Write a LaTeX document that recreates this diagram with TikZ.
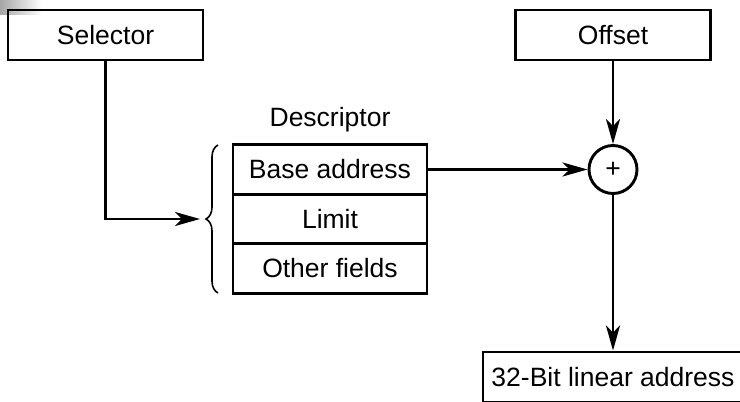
\documentclass[tikz,border=0pt]{standalone}
\usepackage{fontspec}
\setmainfont{Liberation Sans}
\usetikzlibrary{arrows.meta,decorations.pathreplacing}
\begin{document}
\begin{tikzpicture}[x=1pt,y=-1pt,>={Stealth[length=25pt,width=14pt,inset=7pt]},
	line width=2.9pt, font=\fontsize{26.5}{30}\selectfont,
	box/.style={draw, rectangle, minimum width=195pt, minimum height=50pt, inner sep=0pt},
	row/.style={box, minimum width=194pt, minimum height=49.5pt}]
	\useasboundingbox (0,0) rectangle (740,402);
	\clip (0,0) rectangle (740,402);
	\shade[left color=gray!70, right color=white] (0,0) rectangle (42,14);
	% Boxes
	\node[box] (sel) at (105.5,35) {Selector};
	\node[box] (off) at (613,35) {Offset};
	\node (desc) at (330,120) {Descriptor};
	\node[row] (base) at (330,169.5) {Base address};
	\node[row] (lim) at (330,219) {Limit};
	\node[row] (oth) at (330,268.5) {Other fields};
	\node[draw, circle, minimum size=48pt, inner sep=0pt] (sum) at (613,169.5) {+};
	\node[box, minimum width=260pt] (lin) at (613,377) {32-Bit linear address};
	\coordinate (in) at (200,219);
	% Connectors
	\draw[->] (sel.south) |- (in);
	\draw[decorate, decoration={brace, amplitude=12pt}, line width=1.6pt] (218,293) -- (218,145);
	\draw[->] (base.east) -- (sum.west);
	\draw[->] (off.south) -- (sum.north);
	\draw[->] (sum.south) -- (lin.north);
\end{tikzpicture}
\end{document}
